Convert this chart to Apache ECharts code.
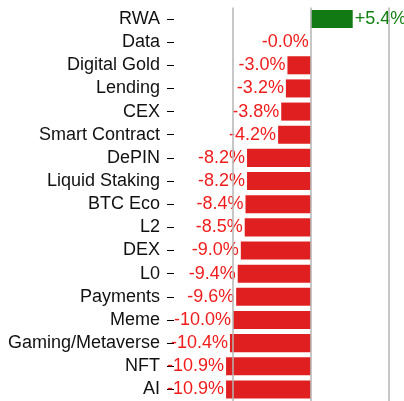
<!DOCTYPE html>
<html>
<head>
<meta charset="utf-8">
<script src="https://cdn.jsdelivr.net/npm/echarts@6/dist/echarts.min.js"></script>
<style>
  html, body { margin: 0; padding: 0; background: #fff; }
  #chart { width: 404px; height: 401px; }
</style>
</head>
<body>
<div id="chart"></div>
<script>
// sectors, top to bottom
const categories = ['RWA', 'Data', 'Digital Gold', 'Lending', 'CEX', 'Smart Contract', 'DePIN',
  'Liquid Staking', 'BTC Eco', 'L2', 'DEX', 'L0', 'Payments', 'Meme', 'Gaming/Metaverse', 'NFT', 'AI']
const changes = [5.4, -0.0, -3.0, -3.2, -3.8, -4.2, -8.2, -8.2, -8.4, -8.5, -9.0, -9.4, -9.6, -10.0, -10.4, -10.9, -10.9]
const gridValues = [-10, 0, 10]

const font = "'Liberation Sans', Arial, sans-serif"
const upColor = '#127a12'
const downColor = '#e02020'

const chart = echarts.init(document.getElementById('chart'))

const option = {
  animation: false,
  grid: { left: 174, right: 0, top: 7.4, height: 396 },
  xAxis: {
    type: 'value',
    min: -17.6,
    max: 12,
    show: false
  },
  yAxis: {
    type: 'category',
    inverse: true,
    data: categories,
    axisLine: { show: false, onZero: false },
    axisTick: { show: true, interval: 0, alignWithLabel: true, length: 7, lineStyle: { color: '#000', width: 1 } },
    axisLabel: { interval: 0, color: '#111', fontSize: 18, fontFamily: font, margin: 14 }
  },
  series: [
    {
      type: 'bar',
      barWidth: '78%',
      data: changes.map(v => {
        const up = v > 0
        return {
          value: v,
          itemStyle: { color: up ? upColor : downColor },
          label: {
            show: true,
            position: up ? 'right' : 'left',
            distance: 2,
            color: up ? '#118011' : '#f01c1c',
            fontSize: 18,
            fontFamily: font,
            formatter: () => (up ? '+' : '-') + Math.abs(v).toFixed(1) + '%'
          }
        }
      }),
      markLine: {
        silent: true,
        symbol: 'none',
        label: { show: false },
        lineStyle: { color: '#b4b4b4', width: 1.5, type: 'solid' },
        data: gridValues.map(x => ({ xAxis: x }))
      }
    }
  ]
}

chart.setOption(option)
</script>
</body>
</html>
